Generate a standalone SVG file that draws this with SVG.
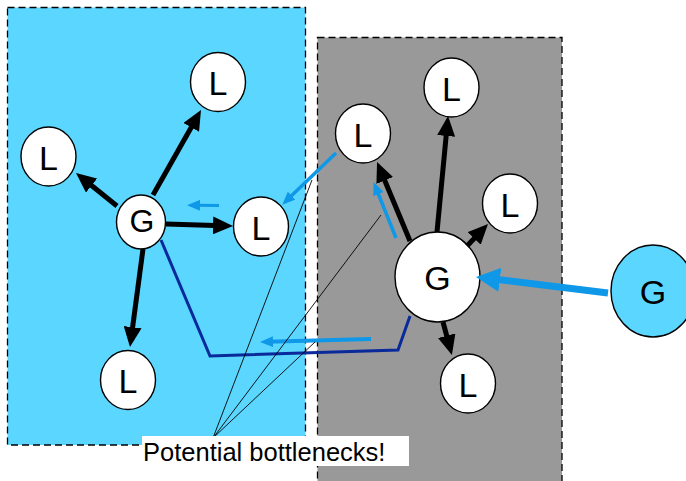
<svg xmlns="http://www.w3.org/2000/svg" width="686" height="481" viewBox="0 0 686 481">
<style>
.zone{stroke:#000;stroke-width:1.3;stroke-dasharray:7,4}
.node ellipse{fill:#fff;stroke:#000;stroke-width:1.4}
.node text{font-family:"Liberation Sans",Arial,sans-serif;font-size:34px;text-anchor:middle;fill:#000}
.node text.g{font-size:32px}
.blk{stroke:#000;stroke-width:5;fill:none;marker-end:url(#ha)}
.blu{stroke:#0f98e8;stroke-width:3.5;fill:none;marker-end:url(#hb)}
.callout{stroke:#000;stroke-width:0.9;fill:none}
</style>
<defs>
<marker id="ha" markerUnits="userSpaceOnUse" markerWidth="20" markerHeight="18" refX="10" refY="9" orient="auto" viewBox="0 0 20 18"><path d="M0,0 L20,9 L0,18 z" fill="#000"/></marker>
<marker id="hb" markerUnits="userSpaceOnUse" markerWidth="13" markerHeight="11" refX="6" refY="5.5" orient="auto" viewBox="0 0 13 11"><path d="M0,0 L13,5.5 L0,11 z" fill="#0f98e8"/></marker>
<marker id="hc" markerUnits="userSpaceOnUse" markerWidth="24" markerHeight="24" refX="12" refY="12" orient="auto" viewBox="0 0 24 24"><path d="M0,0 L24,12 L0,24 z" fill="#0f98e8"/></marker>
</defs>
<rect class="zone" x="7.5" y="7.5" width="298" height="437.5" fill="#5bd6fe"/>
<rect class="zone" x="317.5" y="37.5" width="244.5" height="460" fill="#999999"/>

<g id="nL1" class="node"><ellipse cx="218" cy="82" rx="27.5" ry="29.5"/><text x="218" y="95">L</text></g>
<g id="nL2" class="node"><ellipse cx="48.5" cy="156.5" rx="27.5" ry="29.5"/><text x="48.5" y="169.5">L</text></g>
<g id="nL3" class="node"><ellipse cx="261" cy="226.5" rx="27.5" ry="29.5"/><text x="261" y="239.5">L</text></g>
<g id="nL4" class="node"><ellipse cx="128" cy="380" rx="27.5" ry="29.5"/><text x="128" y="393">L</text></g>
<g id="nG1" class="node"><ellipse cx="141" cy="222" rx="24.5" ry="27"/><text class="g" x="142" y="231.5">G</text></g>
<g id="nL5" class="node"><ellipse cx="363" cy="133.5" rx="27.5" ry="29.5"/><text x="363" y="146.5">L</text></g>
<g id="nL6" class="node"><ellipse cx="451.5" cy="87.5" rx="27.5" ry="29.5"/><text x="451.5" y="100.5">L</text></g>
<g id="nL7" class="node"><ellipse cx="510" cy="203.5" rx="27.5" ry="29.5"/><text x="510" y="216.5">L</text></g>
<g id="nL8" class="node"><ellipse cx="468" cy="383.5" rx="27.5" ry="29.5"/><text x="468" y="396.5">L</text></g>
<g id="nG2" class="node"><ellipse cx="437.5" cy="277" rx="42.5" ry="45"/><text x="437.5" y="289.5">G</text></g>
<g id="nG3" class="node"><ellipse cx="653" cy="291" rx="42" ry="46" style="fill:#5bd6fe"/><text x="653" y="303.5">G</text></g>

<g id="connectors">
<line class="blk" x1="153" y1="195" x2="196.1" y2="118.7"/>
<line class="blk" x1="117" y1="206" x2="83.8" y2="179.3"/>
<line class="blk" x1="166" y1="224" x2="223" y2="225.7"/>
<line class="blk" x1="143" y1="249" x2="131.3" y2="337.1"/>
<line class="blk" x1="410" y1="241" x2="380.9" y2="171.2"/>
<line class="blk" x1="437" y1="232" x2="447.1" y2="126"/>
<line class="blk" x1="467" y1="246" x2="481.1" y2="231.2"/>
<line class="blk" x1="443" y1="322" x2="449.3" y2="345.4"/>
<line x1="608" y1="293" x2="487.9" y2="278.4" stroke="#0f98e8" stroke-width="7" marker-end="url(#hc)"/>
<line class="blu" x1="219" y1="205.5" x2="194" y2="205.3" style="stroke-width:3"/>
<line class="blu" x1="336" y1="153" x2="287.3" y2="199.8"/>
<line class="blu" x1="396" y1="238" x2="376.2" y2="188.6"/>
<line class="blu" x1="371" y1="339" x2="267" y2="341.8" style="stroke-width:4"/>
<polyline points="161,240 210,356 398,350 410,316" fill="none" stroke="#0a2a9c" stroke-width="3"/>
</g>

<g id="callout">
<line class="callout" x1="213" y1="438" x2="312" y2="180"/>
<line class="callout" x1="213" y1="438" x2="381" y2="215"/>
<line class="callout" x1="213" y1="438" x2="315" y2="342"/>
<rect x="142" y="436" width="267" height="30" fill="#fff"/>
<text x="143" y="461" font-family="'Liberation Sans',Arial,sans-serif" font-size="25.5" fill="#000">Potential bottlenecks!</text>
</g>
</svg>
